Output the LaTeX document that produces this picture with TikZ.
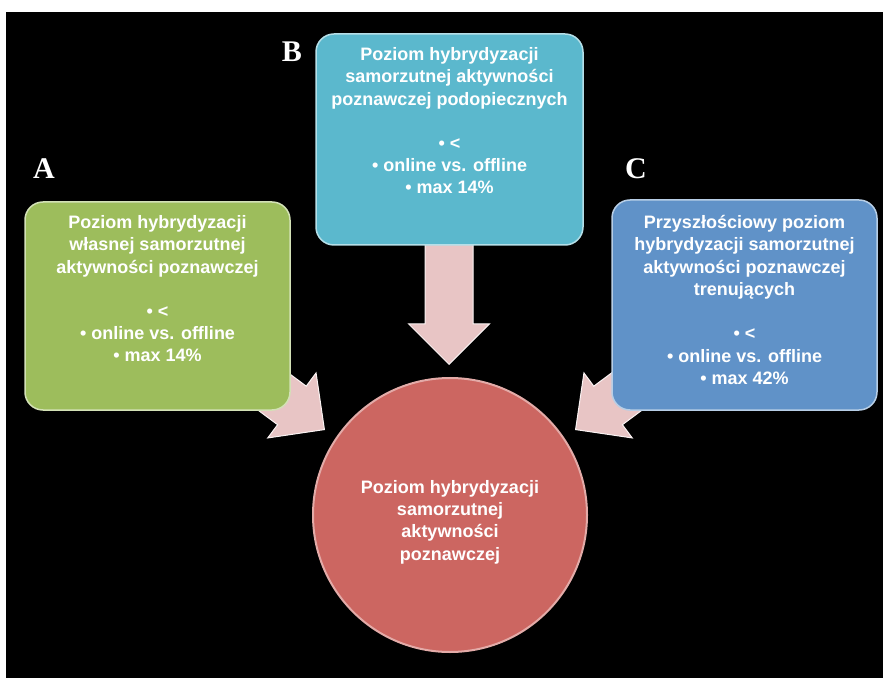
\documentclass[tikz,border=0pt]{standalone}
\usepackage{fontspec}
\setmainfont{Liberation Sans}
\newfontfamily\letterfont{Liberation Serif}
\usetikzlibrary{shapes.arrows,positioning}

\definecolor{boxgreen}{RGB}{157,189,92}
\definecolor{boxcyan}{RGB}{91,184,205}
\definecolor{boxblue}{RGB}{96,146,200}
\definecolor{circred}{RGB}{204,102,97}
\definecolor{arrowpink}{RGB}{232,197,197}

\tikzset{
  box/.style={rounded corners=18pt, minimum width=265pt, minimum height=208pt,
    fill=#1, draw=white!55!#1, line width=1.5pt, inner sep=0pt},
  boxtext/.style={text=white, font=\bfseries\fontsize{18}{22.3}\selectfont,
    align=center, inner sep=0pt},
  blockarrow/.style={single arrow, fill=arrowpink, draw=white!80!arrowpink,
    line width=1pt, minimum height=#1, inner sep=23.5pt,
    single arrow head extend=16.5pt, single arrow tip angle=90, anchor=tip},
  letter/.style={text=white, font=\letterfont\bfseries\fontsize{30}{30}\selectfont}
}

\begin{document}
\begin{tikzpicture}[x=1pt,y=1pt]
	\useasboundingbox (0,0) rectangle (883,678);
	\fill[black] (6,0) rectangle (883,666);

	% arrows go under the boxes
	\node[blockarrow=112, rotate=-36.6] (arrA) at (325,248) {};
	\node[blockarrow=135, rotate=-90] (arrB) at (449,313) {};
	\node[blockarrow=112, rotate=-143.4] (arrC) at (575,248) {};

	\node[box=boxgreen] (a) at (157.5,372) {};
	\node[box=boxcyan, minimum width=267pt, minimum height=211pt] (b) at (449.5,538.5) {};
	\node[box=boxblue, minimum height=210pt] (c) at (744.5,373) {};
	\node[circle, fill=circred, draw=white!45!circred, line width=2pt, minimum size=274pt] (r) at (450,163) {};

	\node[boxtext, below=14pt of a.north] (atxt) {Poziom hybrydyzacji\\ własnej samorzutnej\\ aktywności poznawczej\\[22pt] • <\\ • online vs. offline\\ • max 14\%};
	\node[boxtext, below=14pt of b.north] (btxt) {Poziom hybrydyzacji\\ samorzutnej aktywności\\ poznawczej podopiecznych\\[22pt] • <\\ • online vs. offline\\ • max 14\%};
	\node[boxtext, below=16pt of c.north] (ctxt) {Przyszłościowy poziom\\ hybrydyzacji samorzutnej\\ aktywności poznawczej\\ trenujących\\[22pt] • <\\ • online vs. offline\\ • max 42\%};
	\node[boxtext] (rtxt) at ([yshift=-7pt]r.center) {Poziom hybrydyzacji\\ samorzutnej\\ aktywności\\ poznawczej};

	\node[letter] (la) at (44,509) {A};
	\node[letter] (lb) at (292,626) {B};
	\node[letter] (lc) at (636,509) {C};
\end{tikzpicture}
\end{document}
